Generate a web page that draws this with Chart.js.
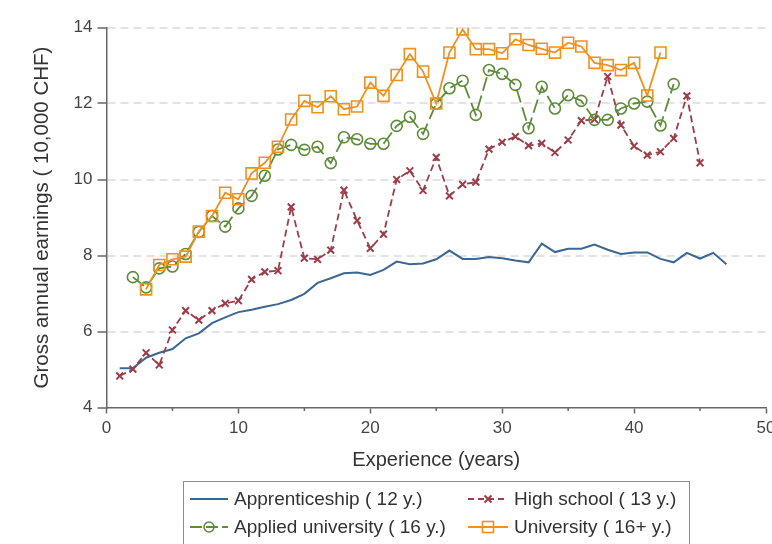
<!DOCTYPE html>
<html>
<head>
<meta charset="utf-8">
<script src="https://cdn.jsdelivr.net/npm/chart.js@4.4.1/dist/chart.umd.min.js"></script>
<style>
  html, body { margin: 0; padding: 0; background: #fff; overflow: hidden; width: 772px; height: 544px; }
  #wrap { position: relative; width: 800px; height: 544px; }
  #chart { position: absolute; left: 0; top: 0; }
  #legend {
    position: absolute; left: 183px; top: 481px; width: 507px; height: 90px;
    border: 1px solid #8c8c8c; box-sizing: border-box;
    font-family: "Liberation Sans", Arial, sans-serif; font-size: 19px; color: #333;
  }
  .item { position: absolute; height: 24px; display: flex; align-items: center; white-space: nowrap; }
  .item svg { display: block; margin-right: 4px; }
</style>
</head>
<body>
<div id="wrap">
  <canvas id="chart" width="800" height="544"></canvas>
  <div id="legend">
    <div class="item" style="left:6px;top:5px">
      <svg width="40" height="14"><line x1="0" y1="7" x2="38" y2="7" stroke="#3b6792" stroke-width="2"/></svg>
      <span>Apprenticeship ( 12 y.)</span>
    </div>
    <div class="item" style="left:284px;top:5px">
      <svg width="42" height="14">
        <line x1="0" y1="7" x2="40" y2="7" stroke="#9b3d4a" stroke-width="1.8" stroke-dasharray="6,4"/>
        <path d="M16.5 3.5 L23.5 10.5 M23.5 3.5 L16.5 10.5" stroke="#9b3d4a" stroke-width="2"/>
      </svg>
      <span>High school ( 13 y.)</span>
    </div>
    <div class="item" style="left:6px;top:33px">
      <svg width="40" height="14">
        <line x1="0" y1="7" x2="38" y2="7" stroke="#5d8c3a" stroke-width="1.8" stroke-dasharray="12,4"/>
        <circle cx="19" cy="7" r="5" fill="none" stroke="#5d8c3a" stroke-width="1.6"/>
      </svg>
      <span>Applied university ( 16 y.)</span>
    </div>
    <div class="item" style="left:284px;top:33px">
      <svg width="42" height="14">
        <line x1="0" y1="7" x2="40" y2="7" stroke="#f0901e" stroke-width="1.8"/>
        <rect x="14.5" y="1.5" width="11" height="11" fill="none" stroke="#f0901e" stroke-width="1.6"/>
      </svg>
      <span>University ( 16+ y.)</span>
    </div>
  </div>
</div>
<script>
// Gross annual earnings (10,000 CHF) by years of experience, per education level
const apprenticeshipStart = 1;
const apprenticeship = [5.03, 5.03, 5.31, 5.44, 5.54, 5.82, 5.95, 6.22, 6.37, 6.51,
  6.57, 6.65, 6.72, 6.83, 6.99, 7.28, 7.40, 7.53, 7.55, 7.49,
  7.62, 7.84, 7.77, 7.79, 7.90, 8.13, 7.91, 7.91, 7.96, 7.93,
  7.87, 7.82, 8.31, 8.09, 8.18, 8.18, 8.29, 8.15, 8.04, 8.08,
  8.08, 7.91, 7.82, 8.07, 7.92, 8.07, 7.77];

const highSchoolStart = 1;
const highSchool = [4.83, 5.01, 5.44, 5.12, 6.04, 6.55, 6.30, 6.55, 6.74, 6.81,
  7.37, 7.57, 7.60, 9.28, 7.93, 7.90, 8.14, 9.72, 8.92, 8.19,
  8.56, 10.00, 10.23, 9.71, 10.58, 9.57, 9.87, 9.93, 10.80, 10.98,
  11.13, 10.89, 10.95, 10.71, 11.04, 11.55, 11.58, 12.71, 11.43, 10.88,
  10.64, 10.73, 11.08, 12.20, 10.44];

const appliedUniversityStart = 2;
const appliedUniversity = [7.43, 7.16, 7.66, 7.71, 8.04, 8.62, 9.04, 8.76, 9.24,
  9.57, 10.10, 10.79, 10.91, 10.78, 10.86, 10.43, 11.11, 11.06, 10.94,
  10.94, 11.41, 11.65, 11.20, 12.00, 12.40, 12.60, 11.70, 12.88, 12.78,
  12.49, 11.35, 12.44, 11.87, 12.22, 12.07, 11.57, 11.57, 11.87, 12.00,
  12.05, 11.42, 12.51];

const universityStart = 3;
const university = [7.11, 7.75, 7.90, 7.97, 8.63, 9.04, 9.65, 9.48,
  10.16, 10.44, 10.86, 11.58, 12.07, 11.90, 12.19, 11.85, 11.92, 12.55,
  12.20, 12.75, 13.30, 12.84, 12.00, 13.34, 13.95, 13.43, 13.43, 13.32,
  13.69, 13.54, 13.44, 13.34, 13.60, 13.50, 13.07, 13.01, 12.88, 13.07,
  12.21, 13.34];

const xTickValues = [0, 10, 20, 30, 40, 50];
const xMinorTickValues = [5, 15, 25, 35, 45];
const yTickValues = [4, 6, 8, 10, 12, 14];

const toPoints = (start, values) => values.map((v, i) => ({ x: start + i, y: v }));

const FONT = '"Liberation Sans", Arial, sans-serif';
Chart.defaults.font.family = FONT;

// short unlabeled ticks half-way between the labeled x ticks
const minorTicks = {
  id: 'minorTicks',
  afterDraw(chart) {
    const sx = chart.scales.x;
    const ctx = chart.ctx;
    ctx.save();
    ctx.strokeStyle = '#666';
    ctx.lineWidth = 1.5;
    xMinorTickValues.forEach(v => {
      const px = sx.getPixelForValue(v);
      ctx.beginPath();
      ctx.moveTo(px, sx.top);
      ctx.lineTo(px, sx.top + 3.5);
      ctx.stroke();
    });
    ctx.restore();
  }
};

new Chart(document.getElementById('chart'), {
  type: 'line',
  data: {
    datasets: [
      {
        label: 'Apprenticeship ( 12 y.)',
        data: toPoints(apprenticeshipStart, apprenticeship),
        borderColor: '#3b6792', borderWidth: 2,
        pointRadius: 0, order: 3
      },
      {
        label: 'High school ( 13 y.)',
        data: toPoints(highSchoolStart, highSchool),
        borderColor: '#9b3d4a', borderWidth: 1.8, borderDash: [7, 4],
        pointStyle: 'crossRot', pointRadius: 4.8, pointBorderWidth: 2,
        pointBorderColor: '#9b3d4a', order: 2
      },
      {
        label: 'Applied university ( 16 y.)',
        data: toPoints(appliedUniversityStart, appliedUniversity),
        borderColor: '#5d8c3a', borderWidth: 1.8, borderDash: [14, 5],
        pointStyle: 'circle', pointRadius: 5.5, pointBorderWidth: 1.6,
        pointBorderColor: '#5d8c3a', pointBackgroundColor: 'rgba(0,0,0,0)', order: 1
      },
      {
        label: 'University ( 16+ y.)',
        data: toPoints(universityStart, university),
        borderColor: '#f0901e', borderWidth: 1.8,
        pointStyle: 'rect', pointRadius: 7.8, pointBorderWidth: 1.6,
        pointBorderColor: '#f0901e', pointBackgroundColor: 'rgba(0,0,0,0)', order: 0
      }
    ]
  },
  options: {
    responsive: false,
    animation: false,
    devicePixelRatio: 1,
    layout: { padding: { top: 27.5, right: 34, bottom: 66.5, left: 0 } },
    plugins: { legend: { display: false }, tooltip: { enabled: false } },
    elements: { line: { tension: 0, fill: false } },
    scales: {
      x: {
        type: 'linear', min: 0, max: 50,
        afterBuildTicks: s => { s.ticks = xTickValues.map(v => ({ value: v })); },
        afterFit: s => { s.height = 70; },
        ticks: { color: '#444', font: { size: 17 }, padding: 5, maxRotation: 0 },
        grid: { drawOnChartArea: false, drawTicks: true, tickLength: 6, tickColor: '#666', tickWidth: 1.5 },
        border: { color: '#666', width: 1.5 },
        title: { display: true, text: 'Experience (years)', color: '#333', font: { size: 20 }, padding: { top: 0, bottom: 5.5 } }
      },
      y: {
        type: 'linear', min: 4, max: 14,
        afterBuildTicks: s => { s.ticks = yTickValues.map(v => ({ value: v })); },
        afterFit: s => { s.width = 106.5; },
        ticks: { color: '#444', font: { size: 17 }, padding: 5 },
        grid: {
          color: c => (c.tick && c.tick.value === 4) ? 'rgba(0,0,0,0)' : '#e3e3e3',
          lineWidth: 2, tickLength: 9, tickColor: '#666', tickWidth: 1.5
        },
        border: { color: '#666', width: 1.5, dash: [8, 5] },
        title: { display: true, text: 'Gross annual earnings ( 10,000 CHF)', color: '#333', font: { size: 20.5 }, padding: { top: 29.7, bottom: 0 } }
      }
    }
  },
  plugins: [minorTicks]
});
</script>
</body>
</html>
